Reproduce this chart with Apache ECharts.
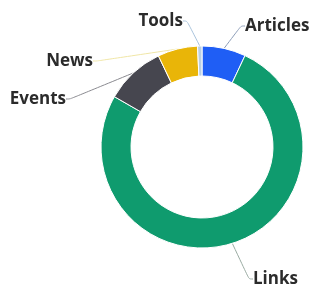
<!DOCTYPE html>
<html>
<head>
<meta charset="utf-8">
<script src="https://cdn.jsdelivr.net/npm/echarts@6/dist/echarts.min.js"></script>
<style>
  html, body { margin: 0; padding: 0; background: #fff; }
  #chart { width: 313px; height: 288px; }
</style>
</head>
<body>
<div id="chart"></div>
<script>
// slices clockwise from 12 o'clock
const categories = ['Articles', 'Links', 'Events', 'News', 'Tools']
const values = [7, 76.3, 9.6, 6.4, 0.7]

// styling, kept apart from the data
const sliceColors = ['#1f5ef5', '#0f9b6e', '#46464f', '#e9b508', '#b9cfe3']
const lineColors = ['#8c9db8', '#9aaba2', '#8a8a90', '#f0e6a6', '#a9c3dc']
const labelSpots = [
  {x: 245, y: 26, align: 'left'},
  {x: 253, y: 279, align: 'left'},
  {x: 66, y: 99, align: 'right'},
  {x: 93, y: 61, align: 'right'},
  {x: 183, y: 21, align: 'right'}
]

const chart = echarts.init(document.getElementById('chart'))

const option = {
  animation: false,
  series: [{
    type: 'pie',
    center: [202, 147],
    radius: [71, 101],
    startAngle: 90,
    clockwise: true,
    avoidLabelOverlap: false,
    itemStyle: {
      borderColor: '#ffffff',
      borderWidth: 1
    },
    label: {
      show: true,
      position: 'outside',
      color: '#2b2b2b',
      fontFamily: 'Open Sans',
      fontWeight: 'bold',
      fontSize: 17,
      formatter: '{b}'
    },
    labelLine: {
      show: true,
      length: 12,
      length2: 4,
      smooth: 0.3,
      lineStyle: {width: 1}
    },
    labelLayout: function (params) {
      const s = labelSpots[params.dataIndex]
      return {x: s.x, y: s.y, align: s.align, verticalAlign: 'middle'}
    },
    emphasis: {disabled: true},
    data: categories.map((name, i) => ({
      name: name,
      value: values[i],
      itemStyle: {color: sliceColors[i]},
      labelLine: {lineStyle: {color: lineColors[i]}}
    }))
  }]
}

chart.setOption(option)
</script>
</body>
</html>
